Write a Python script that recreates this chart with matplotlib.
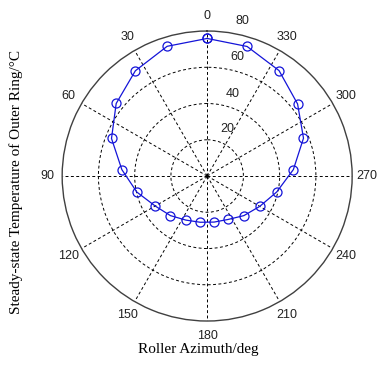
import matplotlib
matplotlib.use("Agg")
import numpy as np
import matplotlib.pyplot as plt

# Roller azimuth (deg) and steady-state outer ring temperature (°C)
azimuth_deg = [0.00, 17.14, 34.29, 51.43, 68.57, 85.71, 102.86, 120.00, 137.14,
               154.29, 171.43, 188.57, 205.71, 222.86, 240.00, 257.14, 274.29,
               291.43, 308.57, 325.71, 342.86]
temperature = [75.9, 74.9, 70.3, 64.2, 56.7, 47.2, 39.8, 33.1, 29.8, 27.0, 25.8,
               25.7, 26.6, 29.8, 33.5, 39.4, 47.7, 57.1, 63.8, 70.4, 74.8]

theta_ticks = [0, 30, 60, 90, 120, 150, 180, 210, 240, 270, 300, 330]
r_ticks = [20, 40, 60, 80]
r_max = 80

xlabel = "Roller Azimuth/deg"
ylabel = "Steady-state Temperature of Outer Ring/°C"

fig = plt.figure(figsize=(3.77, 3.65), dpi=100)
fig.patch.set_facecolor("white")
ax = fig.add_axes([0.1649, 0.1205, 0.7692, 0.7945], projection="polar")
ax.set_theta_zero_location("N")
ax.set_theta_direction(1)
ax.set_ylim(0, r_max)
ax.set_yticks(r_ticks[:-1])
ax.set_yticklabels([])
ax.set_xticks(np.deg2rad(theta_ticks))
ax.set_xticklabels([])
ax.tick_params(length=0)
ax.grid(True, color="black", linestyle=(0, (3, 2.5)), linewidth=0.7)
ax.spines["polar"].set_color("#404040")
ax.spines["polar"].set_linewidth(1.0)

th = np.deg2rad(azimuth_deg + [azimuth_deg[0] + 360])
rr = temperature + [temperature[0]]
ax.plot(th, rr, color="#1414d8", linewidth=0.9, marker="o", markersize=6.5,
        markerfacecolor="none", markeredgecolor="#1414d8", markeredgewidth=0.9)

tick_font = dict(family=["Liberation Sans", "DejaVu Sans"], size=9, color="#222222")
for t in theta_ticks:
    ax.text(np.deg2rad(t), 88.3, str(t), ha="center", va="center",
            clip_on=False, **tick_font)

# radial tick label positions (angle from top, clockwise, and radius)
r_label_ang = [23.0, 17.0, 14.2, 12.8]
r_label_rad = [28.3, 47.5, 68.0, 87.6]
for v, a, rad in zip(r_ticks, r_label_ang, r_label_rad):
    ax.text(np.deg2rad(-a), rad, str(v), ha="center", va="center",
            clip_on=False, **tick_font)

serif = dict(family=["Liberation Serif", "DejaVu Serif"], size=11, color="black")
fig.text(198 / 377, 1 - 349 / 365, xlabel, ha="center", va="center", **serif)
fig.text(16.5 / 377, 1 - 182 / 365, ylabel, ha="center", va="center",
         rotation=90, **serif)

fig.savefig("out.png", dpi=100, facecolor="white")
